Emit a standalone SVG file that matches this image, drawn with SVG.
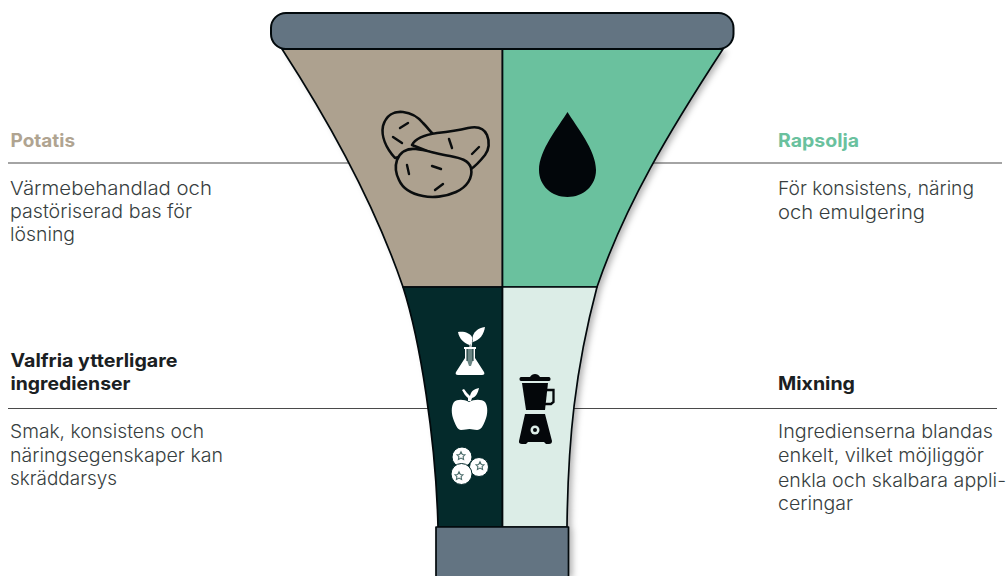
<svg xmlns="http://www.w3.org/2000/svg" width="1007" height="576" viewBox="0 0 1007 576">
<style>
text{font-family:"Inter","Liberation Sans",sans-serif;font-size:18.5px;font-weight:300;fill:#373e40}
.h{font-weight:700}
.o{stroke:#02090c;stroke-width:1.7;stroke-linejoin:round}
.rule{stroke:#4a4a4a;stroke-width:1.2;fill:none}
.pot{fill:#ada18f;stroke:#0a0d0e;stroke-width:2.600;stroke-linecap:round;stroke-linejoin:round}
.dash{fill:none;stroke:#0a0d0e;stroke-width:2.400;stroke-linecap:round}
</style>
<defs>
<filter id="s" x="-10%" y="-10%" width="125%" height="120%"><feDropShadow dx="4" dy="2" stdDeviation="3" flood-color="#000" flood-opacity=".3"/></filter>
<polygon id="star" points="0,-4.200 1.300,-1.500 4,-1.300 2.100,.7 2.600,3.500 0,2.100 -2.600,3.500 -2.100,.7 -4,-1.300 -1.300,-1.500" fill="#fff" stroke="#4d6e6c" stroke-width="1.100"/>
</defs>
<g id="connectors">
<path class="rule" d="M8 163H352M650 163H1002M8 408.500H431M571 408.500H997"/>
</g>
<g id="funnel-shadow" filter="url(#s)">
<path fill="#fff" d="M282 49C328 120 375 205 403 287C420 340 436 440 438 527H436V576H568.500V527H567C568 440 575 370 597 287C625 205 670 130 723 49Z"/>
</g>
<g id="potatis-section">
<path class="o" fill="#ada18f" d="M282 49C328 120 375 205 403 287H502.500V49Z"/>
<g id="potato-icon">
<path class="pot" d="M395 158C386 148 381 136 383 126C386 115 394 111 403 112C412 113 418 117 423 123C427 127 430 131 433 134L425 150Z"/>
<path class="pot" d="M412 145C415 139 424 135 437 133C447 132 460 130 468 128C477 126 484 128 487 135C490 142 489 150 485 155C481 160 477 165 471 169L450 160Z"/>
<path class="pot" d="M397 160C400 152 407 148 416 149C425 150 438 154 450 156C460 158 469 160 471 168C473 178 467 187 456 192C445 197 432 198 423 196C412 194 403 189 399 180C396 174 395 166 397 160Z"/>
<path class="dash" d="M400 128L408 123M393 137L402 143M449 139L452 148M472 154L479 147M407 165L409 174M432 166L441 169M435 190L443 184"/>
</g>
</g>
<g id="rapsolja-section">
<path class="o" fill="#6ac19e" d="M502.500 49V287H597C625 205 670 130 723 49Z"/>
<path id="drop-icon" fill="#02060a" d="M567.500 112C576 126 596 150 596 170C596 186 583 197 567.500 197C552 197 539 186 539 170C539 150 559 126 567.500 112Z"/>
</g>
<g id="tillval-section">
<path class="o" fill="#042a2b" d="M403 287C420 340 436 440 438 527H502.500V287Z"/>
<g id="flask-icon" fill="#fff">
<path d="M458 332C464 331 470 333 472 337C473 340 472 343 470 345C465 344 459 339 458 332Z"/>
<path d="M485 327C484 334 480 340 473 342L472.500 338C473 332 478 328 485 327Z"/>
<path fill="none" stroke="#fff" stroke-width="1" d="M470 344V347M472 341L471 347"/>
<path d="M464 347H476V349H475V358L484 372C485 374 484 375 482 375H458C456 375 455 374 456 372L465 358V349H464Z"/>
<path fill="#6a8583" d="M467 349H473V360L471 366H469L467 360Z"/>
<path fill="#042a2b" d="M466.500 349H467.500V361H466.500ZM472.500 349H473.500V361H472.500Z"/>
</g>
<g id="apple-icon" fill="#fff">
<path d="M462 390L464 389C466 392 468 394 470 396C471 391 474 389 479 388C478 393 476 397 472 398L471 401H468L468 398C465 396 464 393 462 390Z"/>
<path d="M469 402C474 399 482 399 485 402C488 406 488 414 485 421C483 426 481 430 477 430C474 430 472 429 469.500 429C467 429 465 430 461 430C458 430 456 426 454 421C451 414 451 406 454 402C457 399 464 399 469 402Z"/>
</g>
<g id="berries-icon" fill="#fff" stroke="#042a2b" stroke-width="1">
<circle cx="462" cy="457" r="10"/><circle cx="479" cy="467" r="9.500"/><circle cx="461.500" cy="474" r="10.500"/>
</g>
<use href="#star" x="461" y="456"/><use href="#star" x="480" y="466"/><use href="#star" x="459" y="476"/>
</g>
<g id="mixning-section">
<path class="o" fill="#dcede7" d="M502.500 287V527H567C568 440 575 370 597 287Z"/>
<g id="blender-icon" fill="#04070a">
<path d="M521 377H530C531 375 533 374 535 374C537 374 539 375 540 377H549C550 377 550.500 378 550.500 379C550.500 380 550 381 549 381H521C520 381 519.500 380 519.500 379C519.500 378 520 377 521 377Z"/>
<path d="M522 383H548L545 410H526Z"/>
<path fill="none" stroke="#04070a" stroke-width="2.300" d="M546 390H553.500V402L551 404H545"/>
<path d="M525 414H545L552 441C552 443 551 444 549 444H546L544 442H528L526 444H522C520 444 518.500 443 519 441Z"/>
<circle cx="535" cy="430" r="4.500" fill="#dcede7"/><circle cx="535" cy="430" r="2" fill="#04070a"/>
</g>
</g>
<g id="top-bar"><rect class="o" x="271" y="13" width="462.500" height="36" rx="15" fill="#637482" style="stroke-width:2"/></g>
<g id="bottom-bar"><rect class="o" x="436" y="527" width="132.500" height="60" fill="#637482"/></g>
<g id="label-potatis"><text class="h" x="10.500" y="147" textLength="64.500" lengthAdjust="spacingAndGlyphs" style="fill:#b0a491">Potatis</text>
<text x="10" y="195" textLength="202" lengthAdjust="spacingAndGlyphs">Värmebehandlad och</text><text x="10" y="218" textLength="182" lengthAdjust="spacingAndGlyphs">pastöriserad bas för</text><text x="10" y="241" textLength="65" lengthAdjust="spacingAndGlyphs">lösning</text></g>
<g id="label-rapsolja"><text class="h" x="778" y="147" textLength="81" lengthAdjust="spacingAndGlyphs" style="fill:#6ac19e">Rapsolja</text>
<text x="778" y="195" textLength="196" lengthAdjust="spacingAndGlyphs">För konsistens, näring</text><text x="778" y="219" textLength="147" lengthAdjust="spacingAndGlyphs">och emulgering</text></g>
<g id="label-valfria"><text class="h" x="10.500" y="367" textLength="167" lengthAdjust="spacingAndGlyphs" style="fill:#1a2022">Valfria ytterligare</text><text class="h" x="10.500" y="390" textLength="120" lengthAdjust="spacingAndGlyphs" style="fill:#1a2022">ingredienser</text>
<text x="10" y="438" textLength="194" lengthAdjust="spacingAndGlyphs">Smak, konsistens och</text><text x="10" y="462" textLength="213" lengthAdjust="spacingAndGlyphs">näringsegenskaper kan</text><text x="10" y="485" textLength="107" lengthAdjust="spacingAndGlyphs">skräddarsys</text></g>
<g id="label-mixning"><text class="h" x="778" y="390" textLength="77" lengthAdjust="spacingAndGlyphs" style="fill:#1a2022">Mixning</text>
<text x="778" y="438" textLength="215" lengthAdjust="spacingAndGlyphs">Ingredienserna blandas</text><text x="778" y="462" textLength="206" lengthAdjust="spacingAndGlyphs">enkelt, vilket möjliggör</text><text x="778" y="487" textLength="228" lengthAdjust="spacingAndGlyphs">enkla och skalbara appli-</text><text x="778" y="510" textLength="75" lengthAdjust="spacingAndGlyphs">ceringar</text></g>
</svg>
